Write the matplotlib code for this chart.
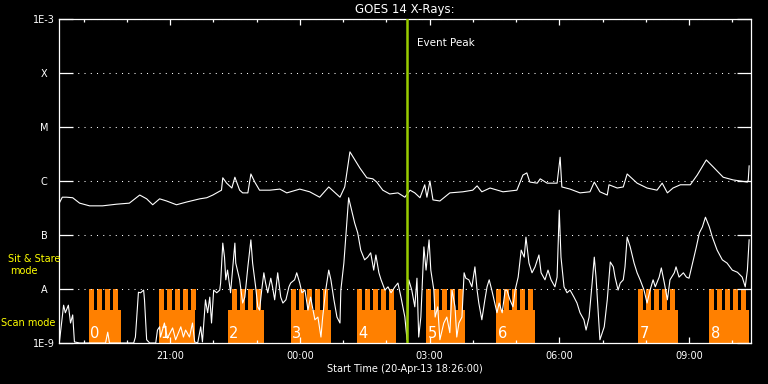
import matplotlib
matplotlib.use('Agg')
import matplotlib.pyplot as plt
import matplotlib.dates as mdates
import numpy as np
import pandas as pd
from matplotlib.ticker import NullLocator

# hours from 00:00 on 21-Apr-13 (negative = evening of 20-Apr)
long_h = [-5.58, -5.49, -5.39, -5.25, -5.09, -4.86, -4.56, -4.24, -3.94, -3.70,
          -3.54, -3.40, -3.24, -3.08, -2.85, -2.62, -2.31, -2.15, -2.01, -1.81,
          -1.78, -1.69, -1.57, -1.50, -1.39, -1.32, -1.20, -1.13, -1.04, -0.93,
          -0.69, -0.46, -0.30, 0.00, 0.23, 0.46, 0.67, 0.93, 1.04, 1.16,
          1.39, 1.55, 1.69, 1.78, 1.92, 2.08, 2.27, 2.43, 2.55, 2.66,
          2.78, 2.89, 2.94, 3.01, 3.08, 3.24, 3.47, 3.77, 4.00, 4.10,
          4.21, 4.40, 4.70, 5.02, 5.16, 5.25, 5.32, 5.49, 5.56, 5.72,
          5.95, 6.02, 6.06, 6.25, 6.48, 6.71, 6.81, 6.94, 7.11, 7.15,
          7.34, 7.48, 7.57, 7.80, 8.03, 8.26, 8.38, 8.50, 8.63, 8.80,
          9.03, 9.19, 9.40, 9.56, 9.79, 10.02, 10.35, 10.37, 10.39]
# log10 of flux (W/m^2), 1-8 A channel
long_log = [-6.44, -6.30, -6.30, -6.31, -6.41, -6.46, -6.46, -6.43, -6.41, -6.26,
            -6.33, -6.44, -6.33, -6.37, -6.44, -6.39, -6.33, -6.31, -6.26, -6.17,
            -5.94, -6.04, -6.13, -5.93, -6.17, -6.22, -6.22, -5.87, -6.02, -6.17,
            -6.17, -6.15, -6.22, -6.15, -6.20, -6.30, -6.11, -6.30, -6.11, -5.46,
            -5.76, -5.94, -5.96, -6.02, -6.17, -6.24, -6.22, -6.30, -6.17, -6.22,
            -6.31, -6.07, -6.30, -6.00, -6.35, -6.37, -6.22, -6.20, -6.17, -6.09,
            -6.20, -6.13, -6.20, -6.17, -5.89, -5.85, -6.02, -6.04, -5.96, -6.04,
            -6.04, -5.56, -6.11, -6.15, -6.22, -6.20, -6.02, -6.20, -6.26, -6.07,
            -6.13, -6.11, -5.87, -6.04, -6.13, -6.17, -6.04, -6.22, -6.13, -6.07,
            -6.07, -5.89, -5.61, -5.74, -5.93, -5.98, -6.02, -5.98, -5.72]

# 0.5-4 A channel
short_h = [-5.56, -5.46, -5.42, -5.35, -5.30, -5.25, -5.21, -5.09, -4.49, -4.44,
           -4.40, -3.84, -3.80, -3.73, -3.68, -3.61, -3.59, -3.54, -3.47, -3.33,
           -3.29, -3.24, -3.22, -3.13, -3.06, -2.94, -2.87, -2.75, -2.69, -2.64,
           -2.55, -2.48, -2.43, -2.36, -2.29, -2.25, -2.18, -2.13, -2.08, -2.04,
           -1.99, -1.92, -1.85, -1.83, -1.78, -1.74, -1.71, -1.67, -1.62, -1.60,
           -1.50, -1.48, -1.39, -1.32, -1.27, -1.20, -1.13, -1.09, -1.02, -0.97,
           -0.93, -0.88, -0.83, -0.79, -0.74, -0.67, -0.63, -0.58, -0.51, -0.44,
           -0.39, -0.32, -0.25, -0.21, -0.12, -0.07, 0.00, 0.05, 0.12, 0.19,
           0.25, 0.35, 0.42, 0.49, 0.53, 0.60, 0.67, 0.72, 0.79, 0.86,
           0.93, 0.95, 1.02, 1.06, 1.13, 1.18, 1.27, 1.34, 1.41, 1.50,
           1.57, 1.64, 1.71, 1.76, 1.83, 1.88, 1.97, 2.04, 2.11, 2.20,
           2.27, 2.34, 2.43, 2.48, 2.52, 2.59, 2.66, 2.71, 2.75, 2.80,
           2.87, 2.92, 2.99, 3.03, 3.10, 3.13, 3.19, 3.24, 3.33, 3.40,
           3.47, 3.52, 3.59, 3.63, 3.68, 3.75, 3.80, 3.84, 3.91, 3.98,
           4.05, 4.10, 4.14, 4.21, 4.28, 4.33, 4.38, 4.44, 4.51, 4.56,
           4.61, 4.68, 4.75, 4.79, 4.86, 4.93, 4.98, 5.05, 5.12, 5.19,
           5.23, 5.30, 5.37, 5.44, 5.53, 5.58, 5.67, 5.74, 5.81, 5.90,
           5.95, 6.00, 6.04, 6.11, 6.18, 6.25, 6.34, 6.41, 6.48, 6.57,
           6.62, 6.69, 6.76, 6.81, 6.85, 6.90, 6.94, 7.04, 7.11, 7.18,
           7.25, 7.29, 7.36, 7.41, 7.48, 7.52, 7.57, 7.64, 7.73, 7.80,
           7.87, 7.96, 8.03, 8.10, 8.17, 8.22, 8.31, 8.36, 8.43, 8.50,
           8.56, 8.66, 8.70, 8.77, 8.87, 8.94, 9.00, 9.10, 9.17, 9.24,
           9.31, 9.38, 9.47, 9.54, 9.65, 9.77, 9.88, 10.00, 10.12, 10.23,
           10.30, 10.35, 10.39]
short_log = [-9.00, -8.30, -8.44, -8.30, -8.63, -8.48, -8.98, -9.00, -9.00, -8.80,
             -9.00, -9.00, -8.89, -8.06, -8.07, -8.02, -8.20, -8.94, -9.00, -9.00,
             -8.76, -8.70, -8.89, -8.63, -8.91, -8.72, -8.94, -8.70, -8.89, -8.76,
             -8.89, -8.63, -8.98, -9.00, -8.70, -8.98, -8.20, -8.44, -8.15, -8.63,
             -8.02, -8.07, -8.02, -7.89, -7.15, -7.41, -7.83, -7.65, -7.96, -8.07,
             -7.15, -7.52, -7.83, -8.26, -8.15, -7.59, -7.09, -7.52, -7.96, -8.33,
             -8.39, -8.02, -7.70, -7.89, -8.07, -7.80, -7.96, -8.20, -7.70, -8.15,
             -8.26, -8.20, -7.96, -7.89, -7.83, -7.70, -7.89, -8.07, -8.02, -8.39,
             -8.15, -8.57, -8.52, -8.89, -8.52, -8.02, -7.65, -7.83, -8.20, -8.52,
             -8.63, -8.02, -7.52, -7.09, -6.31, -6.48, -6.78, -6.96, -7.28, -7.46,
             -7.41, -7.33, -7.65, -7.37, -7.70, -7.83, -8.02, -7.96, -8.07, -7.96,
             -7.89, -8.15, -8.52, -8.94, -7.83, -8.02, -8.33, -7.80, -8.89, -8.52,
             -7.22, -7.65, -7.09, -7.65, -8.02, -8.52, -8.33, -8.94, -8.63, -8.52,
             -8.81, -8.02, -8.33, -8.89, -8.63, -8.52, -7.70, -7.80, -7.83, -7.96,
             -7.59, -8.02, -8.26, -8.57, -8.20, -7.96, -7.83, -8.02, -8.26, -8.44,
             -8.26, -8.44, -8.02, -8.02, -8.20, -8.33, -8.02, -7.78, -7.28, -7.41,
             -7.04, -7.52, -7.70, -7.59, -7.37, -7.70, -7.83, -7.65, -7.83, -7.96,
             -7.78, -6.54, -7.41, -7.96, -8.07, -8.02, -8.15, -8.26, -8.44, -8.57,
             -8.76, -8.52, -7.89, -7.41, -7.78, -8.44, -8.94, -8.70, -8.20, -7.50,
             -7.59, -7.78, -8.02, -7.89, -7.83, -7.59, -7.04, -7.22, -7.52, -7.70,
             -7.83, -8.02, -8.26, -8.02, -7.83, -7.96, -7.78, -7.61, -7.89, -8.20,
             -7.83, -7.70, -7.59, -7.78, -7.70, -7.78, -7.80, -7.46, -7.22, -6.96,
             -6.85, -6.67, -6.85, -7.04, -7.28, -7.46, -7.52, -7.65, -7.69, -7.78,
             -7.96, -7.65, -7.09]

# scan-mode blocks and their sit & stare teeth (hours from 00:00 21-Apr)
scan_start = [-4.88, -3.26, -1.67, -0.21, 1.32, 2.92, 4.54, 7.82, 9.47]
scan_end = [-4.14, -2.43, -0.83, 0.72, 2.22, 3.82, 5.44, 8.75, 10.39]
stare_first = [-4.88, -3.26, -1.57, -0.21, 1.32, 2.92, 4.54, 7.82, 9.47]
stare_count = [4, 5, 4, 5, 5, 5, 5, 5, 5]
block_labels = ['0', '1', '2', '3', '4', '5', '6', '7', '8']
stare_pitch = 0.185
stare_width = 0.116
scan_top = 4.1e-9

event_peak_h = 2.48

level_flux = [1e-3, 1e-4, 1e-5, 1e-6, 1e-7, 1e-8, 1e-9]
level_labels = ['1E-3', 'X', 'M', 'C', 'B', 'A', '1E-9']

day0 = pd.Timestamp('2013-04-21 00:00:00')
start_time = pd.Timestamp('2013-04-20 18:26:00')
end_time = pd.Timestamp('2013-04-21 10:26:00')


def to_time(h):
    # hours -> matplotlib date numbers
    t = day0 + pd.to_timedelta(np.asarray(h, dtype=float), unit='h')
    return mdates.date2num(t.to_pydatetime())


W, H = 768, 384
fig = plt.figure(figsize=(W / 100, H / 100), dpi=100, facecolor='black')
ax = fig.add_axes([59 / W, 1 - 343 / H, 692 / W, 324 / H], facecolor='black')

orange = '#ff8000'
for s, e, f, n in zip(scan_start, scan_end, stare_first, stare_count):
    ax.fill_between(to_time([s, e]), 1e-9, scan_top, color=orange, lw=0, zorder=1)
    for i in range(n):
        t0 = f + i * stare_pitch
        ax.fill_between(to_time([t0, t0 + stare_width]), scan_top * 0.98, 1e-8,
                        color=orange, lw=0, zorder=1)

for s, lab in zip(scan_start, block_labels):
    ax.annotate(lab, xy=(to_time([s])[0], 1e-9), xytext=(1, 3.6),
                textcoords='offset points', color='white', fontsize=10.5,
                ha='left', va='baseline', zorder=4)

ax.plot(to_time(short_h), 10 ** np.array(short_log), color='white', lw=0.8, zorder=2)
ax.plot(to_time(long_h), 10 ** np.array(long_log), color='white', lw=0.8, zorder=2)

ev = to_time([event_peak_h])[0]
ax.axvline(ev, color='#99cc00', lw=1.8, zorder=3)
ax.annotate('Event Peak', xy=(ev, 0.926), xycoords=ax.get_xaxis_transform(),
            xytext=(7, 0), textcoords='offset points', color='white',
            fontsize=7.5, va='center', ha='left')

ax.set_yscale('log')
ax.set_ylim(1e-9, 1e-3)
ax.set_xlim(mdates.date2num(start_time.to_pydatetime()),
            mdates.date2num(end_time.to_pydatetime()))
ax.set_yticks(level_flux)
ax.set_yticklabels(level_labels)
ax.yaxis.set_minor_locator(NullLocator())
for lab in ax.get_yticklabels():
    lab.set_horizontalalignment('center')

ax.xaxis.set_major_locator(mdates.HourLocator(byhour=range(0, 24, 3)))
ax.xaxis.set_minor_locator(mdates.HourLocator())
ax.xaxis.set_major_formatter(mdates.DateFormatter('%H:%M'))

ax.tick_params(axis='y', which='major', direction='in', left=True, right=True,
               length=10, width=0.9, colors='white', labelsize=7, pad=10.8)
ax.tick_params(axis='x', which='major', direction='in', top=True, bottom=True,
               length=4.5, width=0.9, colors='white', labelsize=7, pad=5.5)
ax.tick_params(axis='x', which='minor', direction='in', top=True, bottom=True,
               length=2.3, width=0.9, colors='white')
ax.grid(axis='y', which='major', color='white', linestyle=(0, (1, 5)), lw=0.75)

for sp in ax.spines.values():
    sp.set_color('white')
    sp.set_linewidth(0.9)

fig.text(405 / W, 1 - 10 / H, 'GOES 14 X-Rays:', color='white', fontsize=8.5,
         ha='center', va='center')
fig.text(405 / W, 1 - 369 / H, 'Start Time (20-Apr-13 18:26:00)', color='white',
         fontsize=7, ha='center', va='center')
fig.text(34 / W, 1 - 259 / H, 'Sit & Stare', color='yellow', fontsize=7,
         ha='center', va='center')
fig.text(24 / W, 1 - 271 / H, 'mode', color='yellow', fontsize=7,
         ha='center', va='center')
fig.text(28 / W, 1 - 323 / H, 'Scan mode', color='yellow', fontsize=7,
         ha='center', va='center')

fig.savefig('out.png', dpi=100, facecolor='black')
